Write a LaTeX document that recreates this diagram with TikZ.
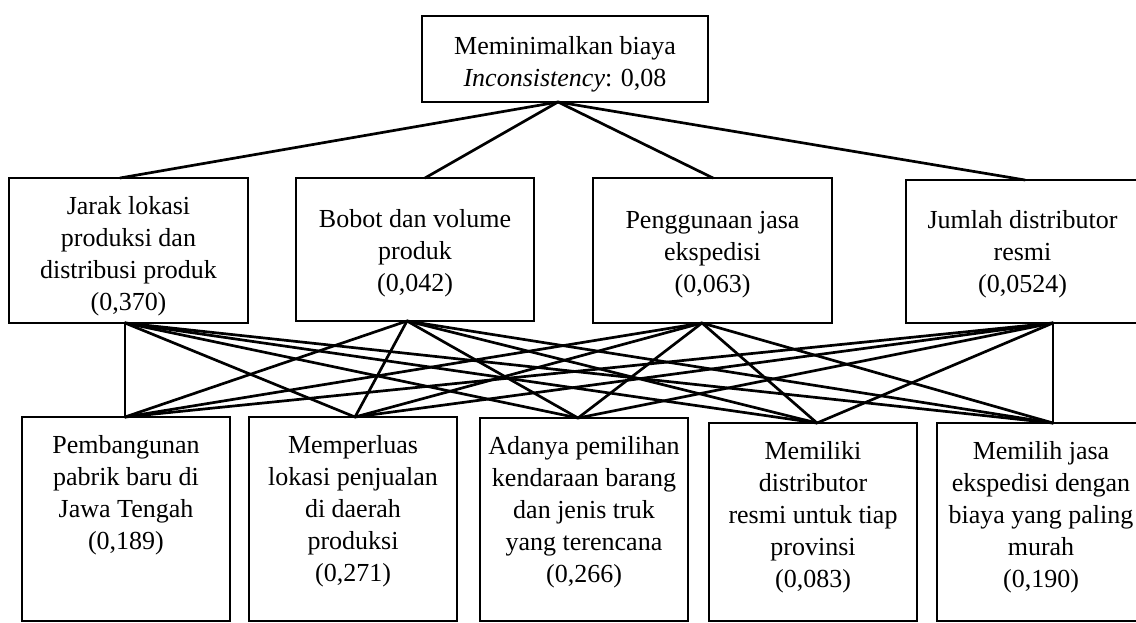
\documentclass[tikz,border=0pt]{standalone}
\usepackage{fontspec}
\setmainfont{Liberation Serif}
\begin{document}
\begin{tikzpicture}[x=1pt,y=-1pt,
  box/.style={draw,line width=2.8pt,rectangle,inner sep=0pt,outer sep=0pt,anchor=north west},
  boxtext/.style={inner sep=0pt,align=center,font=\fontsize{26}{32}\selectfont},
  alttext/.style={anchor=north,inner sep=0pt,align=center,font=\fontsize{26}{32}\selectfont},
  link/.style={line width=2.7pt,line cap=round}]
\useasboundingbox (0,0) rectangle (1136,623);
\clip (0,0) rectangle (1136,623);
% goal
\node[box,minimum width=286pt,minimum height=86pt] (goal) at (422,16) {};
\node[boxtext] (tg) at ([yshift=-5pt]goal.center) {Meminimalkan biaya\\\textit{Inconsistency}: 0,08};
% criteria
\node[box,minimum width=239pt,minimum height=145pt] (c1) at (9,178) {};
\node[box,minimum width=238pt,minimum height=143pt] (c2) at (296,178) {};
\node[box,minimum width=239pt,minimum height=145pt] (c3) at (593,178) {};
\node[box,minimum width=239pt,minimum height=143pt] (c4) at (906,180) {};
\node[boxtext] (tc1) at ([yshift=-6pt]c1.center) {Jarak lokasi\\produksi dan\\distribusi produk\\(0,370)};
\node[boxtext] (tc2) at ([yshift=-4pt]c2.center) {Bobot dan volume\\produk\\(0,042)};
\node[boxtext] (tc3) at ([yshift=-4pt]c3.center) {Penggunaan jasa\\ekspedisi\\(0,063)};
\node[boxtext] (tc4) at ([xshift=-3pt,yshift=-3pt]c4.center) {Jumlah distributor\\resmi\\(0,0524)};
% alternatives
\node[box,minimum width=208pt,minimum height=204pt] (a1) at (22,417) {};
\node[box,minimum width=208pt,minimum height=204pt] (a2) at (249,417) {};
\node[box,minimum width=208pt,minimum height=203pt] (a3) at (480,418) {};
\node[box,minimum width=208pt,minimum height=198pt] (a4) at (709,423) {};
\node[box,minimum width=208pt,minimum height=198pt] (a5) at (937,423) {};
\node[alttext] (t1) at ([yshift=-18pt]a1.north) {Pembangunan\\pabrik baru di\\Jawa Tengah\\(0,189)};
\node[alttext] (t2) at ([yshift=-18pt]a2.north) {Memperluas\\lokasi penjualan\\di daerah\\produksi\\(0,271)};
\node[alttext] (t3) at ([yshift=-18pt]a3.north) {Adanya pemilihan\\kendaraan barang\\dan jenis truk\\yang terencana\\(0,266)};
\node[alttext] (t4) at ([yshift=-18pt]a4.north) {Memiliki\\distributor\\resmi untuk tiap\\provinsi\\(0,083)};
\node[alttext] (t5) at ([yshift=-18pt]a5.north) {Memilih jasa\\ekspedisi dengan\\biaya yang paling\\murah\\(0,190)};
% connection points
\coordinate (g) at ([xshift=136pt]goal.south west);
\coordinate (c1t) at ([xshift=111pt]c1.north west);
\coordinate (c2t) at ([xshift=129pt]c2.north west);
\coordinate (c3t) at ([xshift=120pt]c3.north west);
\coordinate (c4t) at ([xshift=119pt]c4.north west);
\coordinate (c1b) at ([xshift=116pt]c1.south west);
\coordinate (c2b) at ([xshift=111pt]c2.south west);
\coordinate (c3b) at ([xshift=109pt]c3.south west);
\coordinate (c4b) at ([xshift=147pt]c4.south west);
\coordinate (a1t) at ([xshift=103pt]a1.north west);
\coordinate (a2t) at ([xshift=106pt]a2.north west);
\coordinate (a3t) at ([xshift=98pt]a3.north west);
\coordinate (a4t) at ([xshift=108pt]a4.north west);
\coordinate (a5t) at ([xshift=116pt]a5.north west);
% links
\foreach \c in {c1t,c2t,c3t,c4t} \draw[link] (g) -- (\c);
\foreach \c in {c1b,c2b,c3b,c4b}
  \foreach \a in {a1t,a2t,a3t,a4t,a5t}
    \draw[link] (\c) -- (\a);
\end{tikzpicture}
\end{document}
